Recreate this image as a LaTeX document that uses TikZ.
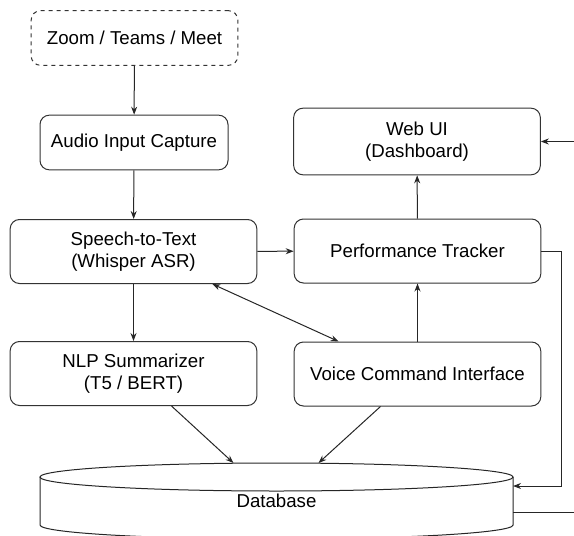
\documentclass[tikz,border=0pt]{standalone}
\usepackage{fontspec}
\setmainfont{Liberation Sans}
\usetikzlibrary{shapes,shapes.geometric,calc,arrows.meta}

\begin{document}
\begin{tikzpicture}[x=0.75pt,y=-0.75pt]
				\tikzstyle{box}=[rectangle, rounded corners=7pt, draw=black!80, line width=0.75pt, fill=white, align=center, font=\fontsize{14}{16.5}\selectfont, minimum width=185pt, minimum height=48pt, inner sep=2pt]
				\tikzstyle{link}=[draw=black!85, line width=0.75pt, -{Stealth[length=6pt,width=4.5pt]}]
				\useasboundingbox (0,0) rectangle (574,535);
				\node[box, dashed, minimum width=155pt, minimum height=41pt] (src) at (134.5,38) {Zoom / Teams / Meet};
				\node[box, minimum width=141pt, minimum height=41pt] (aud) at (134,142.5) {Audio Input Capture};
				\node[box] (stt) at (133.5,251.5) {Speech-to-Text\\(Whisper ASR)};
				\node[box] (nlp) at (133.5,373.5) {NLP Summarizer\\(T5 / BERT)};
				\node[box, minimum height=50pt] (web) at (417,141.5) {Web UI\\(Dashboard)};
				\node[box] (perf) at (417.5,251) {Performance Tracker};
				\node[box] (vci) at (417.5,374) {Voice Command Interface};
				\draw[draw=black!85, line width=0.75pt, fill=white] (40,477) -- (40,525) arc[start angle=180, end angle=360, x radius=177.4pt, y radius=10.5pt] -- (513,477);
				\draw[draw=black!85, line width=0.75pt] (276.5,477) ellipse [x radius=177.4pt, y radius=10.5pt];
				\node[font=\fontsize{14}{16.5}\selectfont] (db) at (276.5,501) {Database};
				\coordinate (dbtop) at (276.5,463);
				\coordinate (dbin) at (513,486);
				\coordinate (dbside) at (513,512);
				\coordinate (dbout) at (574,512);
				\coordinate (uiin) at (574,141.5);
				\draw[link] (src) -- (aud);
				\draw[link] (aud) -- (stt);
				\draw[link] (stt) -- (nlp);
				\draw[link] (stt) -- (perf);
				\draw[link, {Stealth[length=6pt,width=4.5pt]}-{Stealth[length=6pt,width=4.5pt]}] ($(stt.south east)+(-45,0)$) -- ($(vci.north west)+(45,0)$);
				\draw[link] (vci) -- (perf);
				\draw[link] (perf) -- (web);
				\draw[link] ($(nlp.south)+(38,0)$) -- ($(dbtop)+(-43,0)$);
				\draw[link] ($(vci.south)+(-37,0)$) -- ($(dbtop)+(42,0)$);
				\draw[link] (perf.east) -- ++(20,0) |- (dbin);
				\draw[link] (uiin) -- (web.east);
				\draw[draw=black!85, line width=0.75pt] (dbside) -- (dbout);
			\end{tikzpicture}
\end{document}
